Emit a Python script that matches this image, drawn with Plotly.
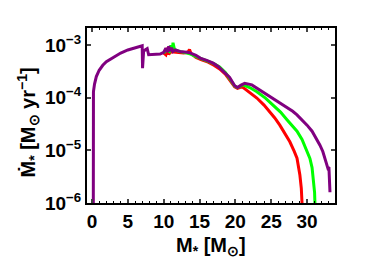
import plotly.graph_objects as go

# Purple series (full track)
purple_x = [0.18, 0.2, 0.35, 0.6, 1.0, 1.5, 2.0, 3.0, 4.0, 5.0, 6.0, 7.0, 7.05, 7.2, 7.4, 7.7, 7.9, 8.5, 9.5,
            10.0, 10.3, 10.5, 10.7, 10.9, 11.1, 11.3, 11.6, 12.3, 13.5, 14.5, 15.1, 16.0, 16.9, 17.6, 18.3,
            19.2, 19.9, 20.3, 20.8, 21.3, 22.3, 23.2, 23.9, 25.0, 26.2, 27.2, 28.0, 28.6, 29.3, 30.0,
            30.7, 31.3, 31.8, 32.2, 32.7, 32.9, 33.05, 33.15, 33.2]
purple_y = [1e-6, 1.3e-4, 1.8e-4, 2.5e-4, 3.3e-4, 4.1e-4, 4.8e-4, 5.9e-4, 7.0e-4, 8.0e-4, 8.9e-4, 9.6e-4, 3.6e-4, 7.6e-4, 8.0e-4, 8.5e-4, 6.5e-4, 6.6e-4, 6.7e-4,
            7.2e-4, 8.6e-4, 7.3e-4, 9.4e-4, 7.6e-4, 8.8e-4, 7.5e-4, 8.0e-4, 7.5e-4, 7.2e-4, 6.3e-4, 5.6e-4, 5.1e-4, 4.5e-4, 3.9e-4, 3.2e-4,
            2.4e-4, 1.68e-4, 1.55e-4, 1.72e-4, 1.86e-4, 1.74e-4, 1.45e-4, 1.22e-4, 1.0e-4, 7.9e-5, 6.5e-5, 5.5e-5, 4.7e-5, 3.8e-5, 3.0e-5,
            2.3e-5, 1.7e-5, 1.25e-5, 9.5e-6, 5.6e-6, 4.6e-6, 4.8e-6, 3.0e-6, 1.6e-6]

# Green series
green_x = [10.0, 10.4, 10.8, 11.0, 11.2, 11.3, 11.5, 12.0, 12.8, 13.6, 14.5, 15.3, 16.2, 17.0, 17.8, 18.6,
           19.3, 19.9, 20.3, 20.8, 21.1, 22.0, 23.0, 24.2, 25.3, 26.3, 27.2, 28.0, 28.6, 29.3, 30.0, 30.4, 30.7, 30.9, 31.05, 31.1]
green_y = [7.0e-4, 8.0e-4, 7.5e-4, 9.8e-4, 7.8e-4, 1.1e-3, 8.2e-4, 7.6e-4, 7.2e-4, 6.8e-4, 6.0e-4, 5.4e-4, 4.9e-4, 4.4e-4, 3.8e-4, 3.0e-4,
           2.2e-4, 1.65e-4, 1.55e-4, 1.68e-4, 1.75e-4, 1.55e-4, 1.29e-4, 9.8e-5, 7.2e-5, 5.3e-5, 3.8e-5, 2.9e-5, 2.3e-5, 1.6e-5, 9.5e-6, 7.0e-6, 4.7e-6, 2.6e-6, 1.6e-6, 1e-6]

# Red series
red_x = [10.0, 10.3, 10.5, 10.7, 11.0, 11.5, 12.0, 12.8, 13.4, 13.6, 13.8, 14.5, 15.3, 16.2, 17.0, 17.8, 18.6,
         19.3, 19.9, 20.3, 20.8, 21.1, 22.0, 23.0, 24.0, 24.8, 25.5, 26.2, 27.0, 27.6, 28.2, 28.6, 29.0, 29.2, 29.3]
red_y = [7.0e-4, 6.5e-4, 8.8e-4, 6.6e-4, 7.4e-4, 7.3e-4, 7.3e-4, 7.0e-4, 7.3e-4, 8.2e-4, 6.9e-4, 5.8e-4, 5.2e-4, 4.7e-4, 4.1e-4, 3.5e-4, 2.8e-4,
         2.1e-4, 1.6e-4, 1.5e-4, 1.58e-4, 1.55e-4, 1.25e-4, 9.8e-5, 7.2e-5, 5.4e-5, 4.1e-5, 3.0e-5, 2.0e-5, 1.45e-5, 9.6e-6, 7.1e-6, 3.4e-6, 1.9e-6, 1e-6]

ytick_vals = [1e-6, 1e-5, 1e-4, 1e-3]
ytick_text = ["10<sup>−6</sup>", "10<sup>−5</sup>", "10<sup>−4</sup>", "10<sup>−3</sup>"]
xtick_vals = [0, 5, 10, 15, 20, 25, 30]
x_title = "M<sub>*</sub> [M<sub>⊙</sub>]"
y_title = "Ṁ<sub>*</sub> [M<sub>⊙</sub> yr<sup>−1</sup>]"

fig = go.Figure()
for xs, ys, col in [(red_x, red_y, "#ff0000"), (green_x, green_y, "#00ff00"), (purple_x, purple_y, "#800080")]:
    fig.add_trace(go.Scatter(x=xs, y=ys, mode="lines", line=dict(color=col, width=3), showlegend=False))

fam = "Liberation Sans, Arial, sans-serif"
tf = dict(size=19, family=fam, color="black", weight="bold")
fig.update_layout(
    width=374, height=258,
    margin=dict(l=79, r=47, t=20, b=63, autoexpand=False),
    paper_bgcolor="white", plot_bgcolor="white",
    font=dict(family=fam, size=19, color="black", weight="bold"),
    xaxis=dict(range=[-0.7, 33.9], tickvals=xtick_vals, ticks="inside", ticklen=4, tickwidth=1.5,
               showline=True, linecolor="black", linewidth=2, mirror="ticks", showgrid=False, zeroline=False,
               automargin=False, tickfont=tf,
               minor=dict(dtick=1, ticks="inside", ticklen=2, tickwidth=1, tickcolor="black")),
    yaxis=dict(type="log", range=[-6, -2.68], tickvals=ytick_vals, ticktext=ytick_text, ticks="inside", ticklen=4,
               tickwidth=1.5, showline=True, linecolor="black", linewidth=2, mirror="ticks", showgrid=False,
               zeroline=False, automargin=False, tickfont=tf),
)
fig.add_annotation(text=x_title, xref="x domain", yref="y domain", x=0.5, y=-43 / 175, xanchor="center",
                   yanchor="middle", showarrow=False, font=dict(size=20, family=fam, color="black", weight="bold"))
fig.add_annotation(text=y_title, xref="x domain", yref="y domain", x=-59 / 248, y=0.46, xanchor="center",
                   yanchor="middle", textangle=-90, showarrow=False,
                   font=dict(size=20, family=fam, color="black", weight="bold"))
fig.write_html("out.html")
